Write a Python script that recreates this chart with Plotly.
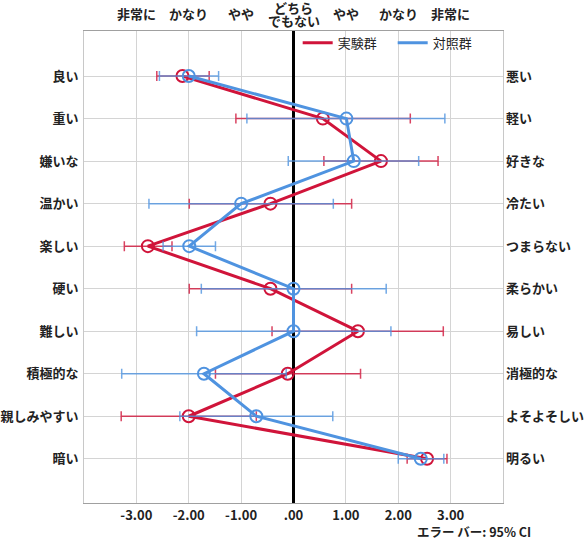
import plotly.graph_objects as go

left_labels = ["良い", "重い", "嫌いな", "温かい", "楽しい", "硬い", "難しい", "積極的な", "親しみやすい", "暗い"]
right_labels = ["悪い", "軽い", "好きな", "冷たい", "つまらない", "柔らかい", "易しい", "消極的な", "よそよそしい", "明るい"]
top_labels = ["非常に", "かなり", "やや", "やや", "かなり", "非常に"]
top_positions = [-3, -2, -1, 1, 2, 3]
neutral_label_lines = ["どちら", "でもない"]
x_tick_vals = [-3, -2, -1, 0, 1, 2, 3]
x_tick_text = ["-3.00", "-2.00", "-1.00", ".00", "1.00", "2.00", "3.00"]

exp_mean = [-2.12, 0.56, 1.67, -0.44, -2.78, -0.44, 1.23, -0.11, -2.00, 2.55]
exp_low = [-2.61, -1.10, 0.58, -1.99, -3.23, -1.99, -0.41, -1.49, -3.29, 2.17]
exp_high = [-1.61, 2.23, 2.76, 1.11, -2.32, 1.11, 2.86, 1.28, -0.71, 2.93]

ctl_mean = [-2.00, 1.01, 1.15, -1.00, -1.99, 0.00, 0.00, -1.71, -0.71, 2.43]
ctl_low = [-2.56, -0.89, -0.10, -2.76, -2.49, -1.76, -1.85, -3.28, -2.17, 2.00]
ctl_high = [-1.43, 2.89, 2.39, 0.76, -1.49, 1.77, 1.86, -0.14, 0.75, 2.87]

rows = list(range(1, len(left_labels) + 1))

RED = "#d0143a"
BLUE = "#4f93e0"
FONT = "Noto Sans CJK JP"
TXT = "#222222"

fig = go.Figure()

def add_series(name, mean, low, high, color, ecolor):
    fig.add_trace(go.Scatter(
        x=mean, y=rows, name=name, mode="lines+markers", showlegend=False,
        line=dict(color=color, width=3),
        marker=dict(symbol="circle-open", size=12, color=color, line=dict(width=2, color=color)),
        error_x=dict(type="data", symmetric=False,
                     array=[h - m for h, m in zip(high, mean)],
                     arrayminus=[m - l for m, l in zip(mean, low)],
                     color=ecolor, thickness=1.5, width=5),
    ))

add_series("実験群", exp_mean, exp_low, exp_high, RED, "rgba(208,20,58,0.8)")
add_series("対照群", ctl_mean, ctl_low, ctl_high, BLUE, "rgba(79,147,224,0.8)")

# legend entries (line only)
for name, color in [("実験群", RED), ("対照群", BLUE)]:
    fig.add_trace(go.Scatter(x=[None], y=[None], name=name, mode="lines",
                             line=dict(color=color, width=3), showlegend=True))

# invisible trace to anchor the right-hand axis
fig.add_trace(go.Scatter(x=[0], y=[1], yaxis="y2", mode="markers",
                         marker=dict(opacity=0), showlegend=False, hoverinfo="skip"))

yrange = [11.04, -0.06]

fig.update_layout(
    width=588, height=541,
    margin=dict(l=84, r=85, t=31, b=38),
    paper_bgcolor="white", plot_bgcolor="white",
    font=dict(family=FONT, size=13, color=TXT),
    showlegend=True,
    legend=dict(orientation="h", x=0.51, y=0.975, xanchor="left", yanchor="middle",
                bgcolor="rgba(0,0,0,0)", font=dict(family=FONT, size=13, color=TXT),
                entrywidth=50, entrywidthmode="pixels", itemwidth=30),
    xaxis=dict(range=[-4, 4], tickvals=x_tick_vals, ticktext=x_tick_text, automargin=False,
               showgrid=True, gridcolor="#d4d4d4", gridwidth=1,
               zeroline=True, zerolinecolor="black", zerolinewidth=3,
               showline=True, linecolor="#a0a0a0", linewidth=1, mirror=True,
               ticks="", tickfont=dict(family=FONT, size=13, color=TXT, weight="bold")),
    yaxis=dict(range=yrange, tickvals=rows, ticktext=left_labels, automargin=False,
               showgrid=True, gridcolor="#d4d4d4", gridwidth=1, zeroline=False,
               showline=True, linecolor="#c8c8c8", linewidth=1, mirror=True,
               ticks="", ticklabelstandoff=2,
               tickfont=dict(family=FONT, size=13, color=TXT, weight="bold")),
    yaxis2=dict(range=yrange, tickvals=rows, ticktext=right_labels, overlaying="y", automargin=False,
                side="right", showgrid=False, zeroline=False, ticks="", ticklabelstandoff=2,
                tickfont=dict(family=FONT, size=13, color=TXT, weight="bold")),
)

PLOT_H = 541 - 31 - 38

def py(px):
    return (541 - 38 - px) / PLOT_H

for pos, lab in zip(top_positions, top_labels):
    fig.add_annotation(x=pos, y=py(13), xref="x", yref="paper", text=lab,
                       showarrow=False, xanchor="center", yanchor="middle",
                       font=dict(family=FONT, size=13, color=TXT, weight="bold"))

for lab, ypx in zip(neutral_label_lines, [7.5, 20.5]):
    fig.add_annotation(x=0, y=py(ypx), xref="x", yref="paper", text=lab,
                       showarrow=False, xanchor="center", yanchor="middle",
                       font=dict(family=FONT, size=13, color=TXT, weight="bold"))

fig.add_annotation(x=1.072, y=py(531.5), xref="paper", yref="paper", text="エラー バー: 95% CI",
                   showarrow=False, xanchor="right", yanchor="middle",
                   font=dict(family=FONT, size=12.5, color=TXT, weight="bold"))

fig.write_html("out.html")
